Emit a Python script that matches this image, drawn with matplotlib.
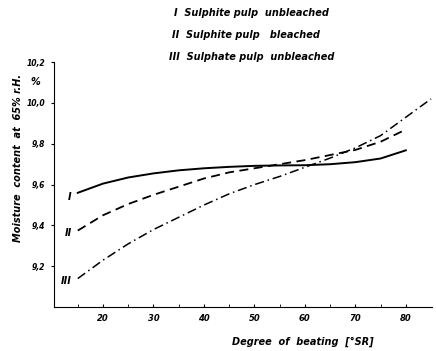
import matplotlib.pyplot as plt
import numpy as np

# degree of beating (°SR) and moisture content (%)
x_I = [15, 20, 25, 30, 35, 40, 45, 50, 55, 60, 65, 70, 75, 80]
y_I = [9.56, 9.605, 9.635, 9.655, 9.67, 9.68, 9.687, 9.692, 9.694, 9.695, 9.70, 9.71, 9.728, 9.768]

x_II = [15, 20, 25, 30, 35, 40, 45, 50, 55, 60, 65, 70, 75, 80]
y_II = [9.375, 9.45, 9.505, 9.55, 9.59, 9.63, 9.66, 9.68, 9.70, 9.72, 9.745, 9.77, 9.81, 9.87]

x_III = [15, 20, 25, 30, 35, 40, 45, 50, 55, 60, 65, 70, 75, 80, 85]
y_III = [9.14, 9.23, 9.31, 9.38, 9.44, 9.50, 9.555, 9.60, 9.64, 9.685, 9.73, 9.78, 9.84, 9.93, 10.02]

yticks = [9.2, 9.4, 9.6, 9.8, 10.0, 10.2]
ytick_labels = ["9,2", "9,4", "9,6", "9,8", "10,0", "10,2"]
xticks = [20, 30, 40, 50, 60, 70, 80]

legend_lines = ["I  Sulphite pulp  unbleached",
                "II  Sulphite pulp   bleached",
                "III  Sulphate pulp  unbleached"]

font = dict(family="DejaVu Sans", weight="bold", style="italic")

fig = plt.figure(figsize=(4.36, 3.51), dpi=100)
ax = fig.add_axes([0.124, 0.125, 0.867, 0.698])

ax.plot(x_I, y_I, color="black", lw=1.4, ls="-")
ax.plot(x_II, y_II, color="black", lw=1.3, ls=(0, (5, 3)))
ax.plot(x_III, y_III, color="black", lw=1.1, ls=(0, (6, 2.5, 1, 2.5)))

ax.set_xlim(10.3, 85.2)
ax.set_ylim(9.0, 10.2)
ax.spines["top"].set_visible(False)
ax.spines["right"].set_visible(False)
ax.spines["left"].set_bounds(9.0, 10.2)
ax.set_xticks(xticks)
ax.set_xticks(np.arange(15, 85, 5), minor=True)
ax.set_xticklabels([str(v) for v in xticks], fontsize=6, **font)
ax.set_yticks(yticks)
ax.set_yticklabels(ytick_labels, fontsize=5.5, **font)
ax.tick_params(axis="x", which="both", direction="in", length=2.5, pad=5)
ax.tick_params(axis="y", direction="out", length=2.5, pad=4)

# curve labels near the starting points
ax.text(13.8, y_I[0] - 0.02, "I", fontsize=7, ha="right", va="center", **font)
ax.text(13.8, y_II[0] - 0.01, "II", fontsize=7, ha="right", va="center", **font)
ax.text(13.8, y_III[0] - 0.01, "III", fontsize=7, ha="right", va="center", **font)

fig.text(0.080, 0.765, "%", fontsize=7, ha="center", va="center", **font)
fig.text(0.042, 0.55, "Moisture  content  at  65% r.H.", rotation=90,
         fontsize=7, ha="center", va="center", **font)
fig.text(0.695, 0.025, "Degree  of  beating  [°SR]", fontsize=7,
         ha="center", va="center", **font)

for i, line in enumerate(legend_lines):
    fig.text(0.40 - 0.006 * i, 0.963 - 0.062 * i, line, fontsize=7,
             ha="left", va="center", **font)

fig.savefig("out.png", dpi=100)
